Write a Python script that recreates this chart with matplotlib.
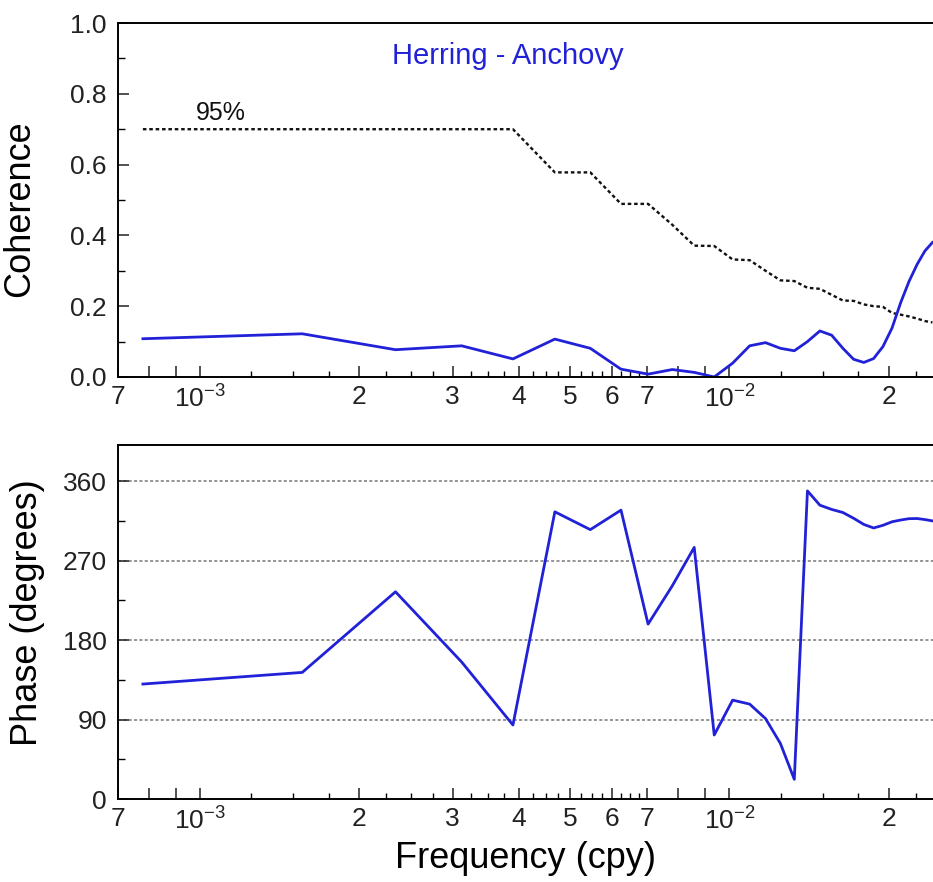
import matplotlib
matplotlib.use("Agg")
import matplotlib.pyplot as plt
from matplotlib.ticker import FixedLocator, NullFormatter, MultipleLocator

plt.rcParams['font.family'] = ['Liberation Sans', 'DejaVu Sans']
plt.rcParams['mathtext.fontset'] = 'custom'
plt.rcParams['mathtext.rm'] = 'Liberation Sans'
plt.rcParams['mathtext.it'] = 'Liberation Sans:italic'

# frequency (cpy), one value per spectral estimate
freq = [0.00078, 0.00156, 0.00234, 0.00312, 0.00390, 0.00468, 0.00546, 0.00624,
        0.00702, 0.00780, 0.00858, 0.00936, 0.01014, 0.01092, 0.01170, 0.01248,
        0.01326, 0.01404, 0.01482, 0.01560, 0.01638, 0.01716, 0.01794, 0.01872,
        0.01950, 0.02028, 0.02106, 0.02184, 0.02262, 0.02340, 0.02418]

# coherence Herring - Anchovy
coherence = [0.108, 0.122, 0.077, 0.088, 0.051, 0.107, 0.081, 0.022,
             0.008, 0.021, 0.013, 0.000, 0.039, 0.088, 0.097, 0.081,
             0.074, 0.100, 0.130, 0.118, 0.081, 0.050, 0.041, 0.052,
             0.086, 0.138, 0.210, 0.270, 0.318, 0.356, 0.380]

# 95% significance level
signif95 = [0.700, 0.700, 0.700, 0.700, 0.700, 0.578, 0.578, 0.489,
            0.489, 0.430, 0.371, 0.370, 0.332, 0.330, 0.300, 0.273,
            0.271, 0.252, 0.249, 0.232, 0.216, 0.215, 0.205, 0.200,
            0.198, 0.181, 0.176, 0.171, 0.165, 0.158, 0.154]

# phase (degrees)
phase = [130.2, 143.4, 234.7, 155.2, 83.8, 325.3, 305.1, 327.2,
         198.1, 241.5, 285.0, 72.5, 112.0, 107.5, 91.1, 63.0,
         22.3, 349.0, 332.8, 328.0, 324.5, 318.0, 311.0, 307.0,
         310.0, 314.0, 316.0, 317.5, 317.7, 316.5, 315.0]

xtick_pos = [7e-4, 8e-4, 9e-4, 1e-3, 2e-3, 3e-3, 4e-3, 5e-3, 6e-3, 7e-3, 8e-3, 9e-3, 1e-2, 2e-2]
xtick_lab = ['7', '', '', r'$\mathregular{10^{-3}}$', '2', '3', '4', '5', '6', '7', '', '',
             r'$\mathregular{10^{-2}}$', '2']
xminor = [1.25e-3, 1.5e-3, 1.75e-3, 2.25e-3, 2.5e-3, 2.75e-3, 3.25e-3, 3.5e-3, 3.75e-3,
          4.25e-3, 4.5e-3, 4.75e-3, 5.25e-3, 5.5e-3, 5.75e-3, 6.25e-3, 6.5e-3, 6.75e-3,
          1.25e-2, 1.5e-2, 1.75e-2, 2.25e-2]

blue = '#2121d8'
tick_fs = 19
label_fs = 26

fig = plt.figure(figsize=(9.33, 8.82), dpi=100)
ax1 = fig.add_axes([0.1265, 0.5726, 0.8735, 0.4013])
ax2 = fig.add_axes([0.1265, 0.0941, 0.8735, 0.4014])


def style_x(ax):
    ax.set_xscale('log')
    ax.set_xlim(7e-4, 0.02424)
    ax.xaxis.set_major_locator(FixedLocator(xtick_pos))
    ax.set_xticklabels(xtick_lab)
    ax.xaxis.set_minor_locator(FixedLocator(xminor))
    ax.xaxis.set_minor_formatter(NullFormatter())
    ax.tick_params(axis='x', which='major', direction='in', length=8, width=1.1,
                   labelsize=tick_fs, pad=6, colors='#222222')
    ax.tick_params(axis='x', which='minor', direction='in', length=4, width=1.0)
    ax.tick_params(axis='y', which='major', direction='in', length=8, width=1.1,
                   labelsize=tick_fs, pad=8, colors='#222222')
    ax.tick_params(axis='y', which='minor', direction='in', length=5, width=1.0)
    ax.spines['right'].set_visible(False)
    for s in ['left', 'top', 'bottom']:
        ax.spines[s].set_linewidth(1.4)


# coherence panel
ax1.plot(freq, signif95, color='#111111', linestyle=(0, (1.5, 1.2)), linewidth=1.7)
ax1.plot(freq, coherence, color=blue, linewidth=2.0)
style_x(ax1)
ax1.set_ylim(0, 1.0)
ax1.set_yticks([0, 0.2, 0.4, 0.6, 0.8, 1.0])
ax1.set_yticklabels(['%.1f' % v for v in [0.0, 0.2, 0.4, 0.6, 0.8, 1.0]])
ax1.yaxis.set_minor_locator(MultipleLocator(0.1))
ax1.set_ylabel('Coherence', fontsize=label_fs)
ax1.yaxis.set_label_coords(-0.099, 0.475)
ax1.text(0.478, 0.906, 'Herring - Anchovy', transform=ax1.transAxes, fontsize=21,
         color=blue, ha='center', va='center')
ax1.text(0.096, 0.747, '95%', transform=ax1.transAxes, fontsize=18,
         color='#111111', ha='left', va='center')

# phase panel
for g in [90, 180, 270, 360]:
    ax2.axhline(g, color='#777777', linestyle=(0, (2, 1.5)), linewidth=1.1, zorder=1)
ax2.plot(freq, phase, color=blue, linewidth=2.0, zorder=3)
style_x(ax2)
ax2.set_ylim(0, 401)
ax2.set_yticks([0, 90, 180, 270, 360])
ax2.yaxis.set_minor_locator(MultipleLocator(45))
ax2.set_ylabel('Phase (degrees)', fontsize=label_fs)
ax2.yaxis.set_label_coords(-0.09, 0.527)
ax2.set_xlabel('Frequency (cpy)', fontsize=26, labelpad=5)

fig.savefig('out.png', dpi=100)
